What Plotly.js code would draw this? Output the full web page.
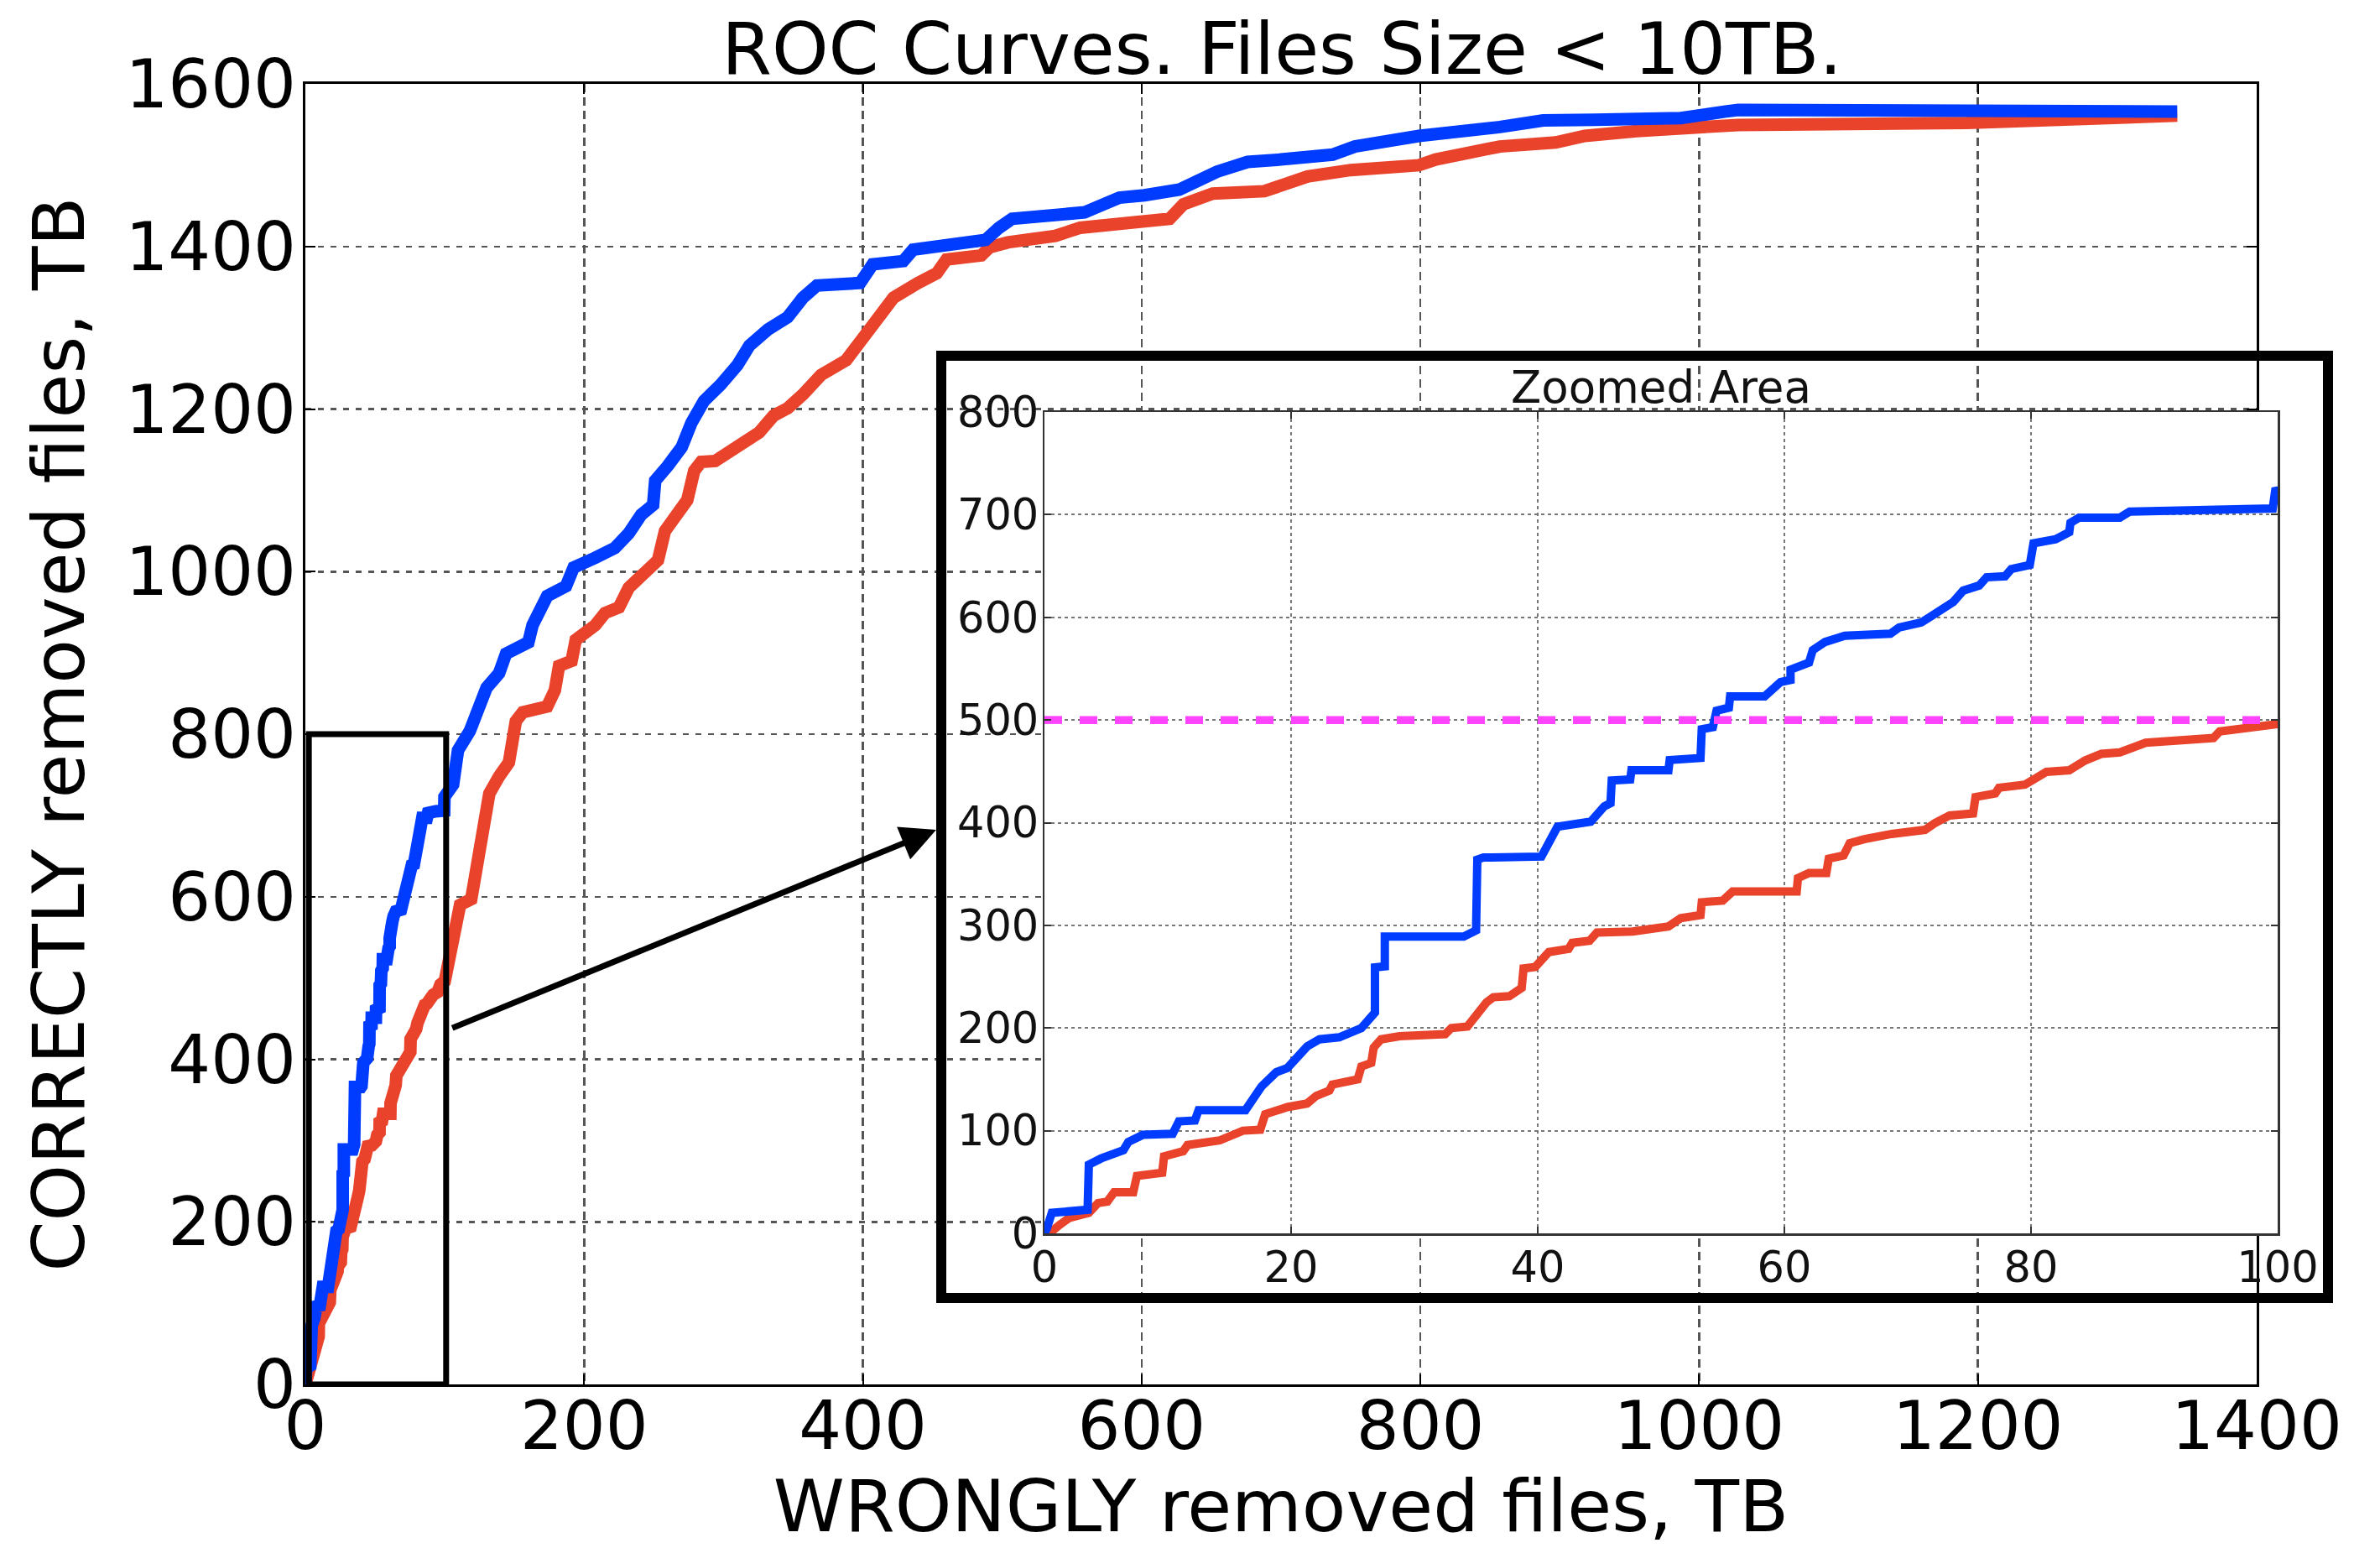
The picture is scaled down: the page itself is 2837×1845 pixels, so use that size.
<!DOCTYPE html>
<html>
<head>
<meta charset="utf-8">
<script src="https://cdn.plot.ly/plotly-3.0.1.min.js"></script>
<style>
  html, body { margin: 0; padding: 0; background: #ffffff; }
  #chart { width: 2837px; height: 1845px; }
</style>
</head>
<body>
<div id="chart"></div>
<script>
// ROC curves: wrongly removed volume (TB) vs correctly removed volume (TB)
const blueWrong = [0, 0.2, 0.6, 3.5, 3.6, 4.6, 6.4, 6.8, 8.0, 10.4, 10.9, 12.2, 12.5, 16.3, 17.6, 18.8, 19.7, 21.3, 22.3, 23.9,
  25.7, 26.8, 26.8, 27.6, 27.6, 34.0, 35.0, 35.1, 35.6, 39.9, 40.3, 41.6, 44.3, 45.4, 45.9, 46.0, 47.5, 47.6, 50.6, 50.7,
  53.2, 53.3, 54.2, 54.5, 55.5, 55.6, 58.4, 59.7, 60.5, 60.5, 62.0, 62.3, 63.3, 64.9, 68.6, 69.3, 71.1, 71.9, 73.7, 74.5,
  75.8, 76.4, 77.9, 78.4, 79.9, 80.2, 82.0, 83.1, 83.2, 83.9, 87.2, 88.0, 93.5, 99.6, 99.8,
  106, 109.5, 118, 130, 139, 144, 160, 163, 173.5, 187, 192.5, 208, 222, 232, 241, 249.5, 251, 260, 270, 277,
  286, 298, 310, 318.6, 332, 346, 357, 367, 398, 407, 429, 436, 473, 488, 497.7, 507, 559, 584, 602, 627,
  654, 676, 700, 737, 753, 780, 799, 857, 888, 925, 987, 1019, 1028, 1343];
const blueCorrect = [0, 5, 20, 23, 67, 73, 81, 89, 96, 97, 109, 110, 120, 120, 143, 157, 161, 182, 189, 191,
  200, 215, 259, 260, 289, 289, 295, 364, 366, 366, 367, 396, 401, 416, 419, 441, 442, 451, 451, 461,
  463, 491, 493, 509, 512, 523, 523, 537, 539, 549, 556, 568, 576, 582, 584, 590, 595, 601, 615, 626,
  631, 639, 640, 647, 651, 672, 676, 683, 692, 697, 697, 703, 705, 706, 723,
  738, 780, 804, 857, 875, 899, 913, 934, 970, 982, 1005, 1017, 1029, 1047, 1070, 1082, 1112, 1130, 1153, 1183,
  1210, 1230, 1254, 1278, 1298, 1313, 1337, 1352, 1355, 1378, 1382, 1396, 1405, 1408, 1423, 1434, 1442, 1460, 1463, 1470,
  1492, 1504, 1507, 1513, 1523, 1531, 1536, 1547, 1555, 1556, 1558, 1566, 1568, 1566];

const redWrong = [0, 0.4, 1.2, 2.0, 3.6, 4.35, 5.1, 5.65, 7.2, 7.5, 9.55, 9.7, 11.25, 11.6, 14.2, 16.1, 17.5, 17.9, 19.7, 21.3,
  22.05, 23.1, 23.35, 25.4, 25.7, 26.5, 26.7, 27.3, 28.8, 32.5, 33.0, 34.3, 35.85, 36.4, 37.7, 38.7, 38.85, 39.8, 40.9, 42.5,
  42.8, 44.2, 44.8, 47.7, 50.6, 51.6, 53.2, 53.3, 55.0, 55.8, 61.0, 61.1, 62.0, 63.4, 63.6, 64.8, 65.3, 66.5, 68.7, 71.4,
  72.2, 73.4, 75.3, 75.5, 77.1, 77.4, 79.5, 80.5, 81.25, 83.1, 84.4, 85.7, 87.2, 89.3, 91.7, 94.8, 95.3, 96.9, 100,
  104, 111, 119, 125, 132, 139, 146, 151, 156, 173.5, 179, 182, 191, 194, 208, 215, 225, 232, 243, 253,
  258, 263, 274, 279, 284, 294, 312, 325.5, 336, 346, 357, 370, 388, 401.5, 412, 422, 439.5, 453, 460, 473,
  485, 491, 504, 538, 556, 602, 620, 630, 651, 688, 719, 750, 799, 811, 857, 897, 918, 955, 987, 1028,
  1192, 1343];
const redCorrect = [0, 0, 8, 15, 20, 29.5, 31, 40, 40, 56, 59, 75, 80, 86, 90.5, 100, 101, 116, 123, 126.5,
  134, 139, 145, 150, 162.5, 166, 181, 189, 192, 194, 200, 201.5, 225, 230, 231, 239, 258, 259.5, 274, 277,
  283, 285, 293, 294, 299, 307, 310, 322.5, 324, 333, 333, 346, 351, 351, 365, 368, 380, 384, 389, 393,
  399.5, 407, 409, 425, 428.5, 434, 437, 445, 449.5, 451, 460.6, 467, 468.4, 477.8, 479.4, 482.5, 488.8, 491.9, 496,
  527, 590, 597, 667, 727, 748, 765, 816, 827, 834, 854, 884, 890, 916, 934, 949, 956, 980, 998, 1014,
  1050, 1064, 1088, 1124, 1135, 1136, 1156, 1171, 1192, 1201, 1218, 1242, 1260, 1290, 1319, 1337, 1355, 1367, 1384, 1386,
  1389, 1399, 1405, 1413, 1423, 1431, 1434, 1452, 1465, 1468, 1486, 1494, 1500, 1507, 1523, 1528, 1536, 1542, 1544, 1549.5,
  1552, 1561];

// Target level marked in the zoomed view
const targetWrong = [0, 100];
const targetCorrect = [500, 500];

const mainXTicks = [0, 200, 400, 600, 800, 1000, 1200, 1400];
const mainYTicks = [0, 200, 400, 600, 800, 1000, 1200, 1400, 1600];
const insetXTicks = [0, 20, 40, 60, 80, 100];
const insetYTicks = [0, 100, 200, 300, 400, 500, 600, 700, 800];

// Page geometry (pixels)
const W = 2837, H = 1845;
const areaL = 364, areaR = 2790, areaT = 100, areaB = 1650;
const fx = p => (p - areaL) / (areaR - areaL);
const fy = p => (areaB - p) / (areaB - areaT);

const BLUE = '#003cff', RED = '#e9432c', MAGENTA = '#ff44ff';
const FONT = 'DejaVu Sans, Verdana, sans-serif';

const traces = [
  { x: redWrong, y: redCorrect, xaxis: 'x', yaxis: 'y', mode: 'lines',
    line: { color: RED, width: 15 }, hoverinfo: 'skip' },
  { x: blueWrong, y: blueCorrect, xaxis: 'x', yaxis: 'y', mode: 'lines',
    line: { color: BLUE, width: 15 }, hoverinfo: 'skip' },
  { x: redWrong, y: redCorrect, xaxis: 'x2', yaxis: 'y2', mode: 'lines',
    line: { color: RED, width: 10 }, hoverinfo: 'skip' },
  { x: blueWrong, y: blueCorrect, xaxis: 'x2', yaxis: 'y2', mode: 'lines',
    line: { color: BLUE, width: 10 }, hoverinfo: 'skip' },
  { x: targetWrong, y: targetCorrect, xaxis: 'x2', yaxis: 'y2', mode: 'lines',
    line: { color: MAGENTA, width: 9.5, dash: '21px,21px' }, hoverinfo: 'skip' }
];

const mainAxis = {
  showline: true, linecolor: '#000', linewidth: 3, mirror: 'ticks',
  ticks: 'inside', ticklen: 12, tickwidth: 2, tickcolor: '#000',
  showgrid: true, gridcolor: '#555', gridwidth: 2.5,
  zeroline: false, automargin: false, fixedrange: true,
  tickfont: { family: FONT, size: 80, color: '#000' }
};
const insetAxis = {
  showline: true, linecolor: '#333', linewidth: 2.5, mirror: 'ticks',
  ticks: 'inside', ticklen: 8, tickwidth: 2, tickcolor: '#333',
  showgrid: true, gridcolor: '#777', gridwidth: 2, griddash: '4px,4px',
  zeroline: false, automargin: false, fixedrange: true,
  tickfont: { family: FONT, size: 51, color: '#111' }
};

const layout = {
  width: W, height: H,
  margin: { l: areaL, r: W - areaR, t: areaT, b: H - areaB, pad: 0 },
  paper_bgcolor: '#ffffff', plot_bgcolor: '#ffffff',
  showlegend: false,
  font: { family: FONT, color: '#000' },
  title: {
    text: 'ROC Curves. Files Size &lt; 10TB.',
    font: { family: FONT, size: 86, color: '#000' },
    xref: 'paper', x: fx(1528), xanchor: 'center',
    yref: 'container', y: 1 - 58 / H, yanchor: 'middle'
  },
  xaxis: Object.assign({}, mainAxis, {
    domain: [0, fx(2690)], range: [0, 1400], tickvals: mainXTicks, ticktext: mainXTicks.map(String),
    anchor: 'y', griddash: '10px,6px', ticklabelstandoff: -22,
    title: { text: 'WRONGLY removed files, TB', font: { family: FONT, size: 86, color: '#000' }, standoff: 72 }
  }),
  yaxis: Object.assign({}, mainAxis, {
    domain: [0, 1], range: [0, 1600], tickvals: mainYTicks, ticktext: mainYTicks.map(String),
    anchor: 'x', griddash: '7px,8px', ticklabelstandoff: -8,
    title: { text: 'CORRECTLY removed files, TB', font: { family: FONT, size: 86, color: '#000' }, standoff: 21 }
  }),
  xaxis2: Object.assign({}, insetAxis, {
    domain: [fx(1245), fx(2715)], range: [0, 100], tickvals: insetXTicks, ticktext: insetXTicks.map(String),
    anchor: 'y2', ticklabelstandoff: -6
  }),
  yaxis2: Object.assign({}, insetAxis, {
    domain: [fy(1470), fy(491)], range: [0, 800], tickvals: insetYTicks, ticktext: insetYTicks.map(String),
    anchor: 'x2', ticklabelstandoff: -6
  }),
  shapes: [
    // frame around the zoomed view
    { type: 'rect', xref: 'paper', yref: 'paper', layer: 'above',
      x0: fx(1122), x1: fx(2775), y0: fy(1547), y1: fy(424),
      line: { color: '#000', width: 12 }, fillcolor: 'rgba(0,0,0,0)' },
    // region of the main plot that is enlarged
    { type: 'rect', xref: 'x', yref: 'y', layer: 'above',
      x0: 2.5, x1: 101, y0: 0, y1: 800,
      line: { color: '#000', width: 7 }, fillcolor: 'rgba(0,0,0,0)' }
  ],
  annotations: [
    { text: 'Zoomed Area', xref: 'paper', yref: 'paper', x: fx(1980), y: fy(461),
      xanchor: 'center', yanchor: 'middle', showarrow: false,
      font: { family: FONT, size: 53, color: '#111' } },
    { text: '', xref: 'x', yref: 'y', x: 452.6, y: 682.3,
      axref: 'x', ayref: 'y', ax: 104.5, ay: 437.9,
      showarrow: true, arrowhead: 2, arrowsize: 1.2, arrowwidth: 7, arrowcolor: '#000', standoff: 0 }
  ]
};

Plotly.newPlot('chart', traces, layout, { displayModeBar: false, staticPlot: true });
</script>
</body>
</html>
